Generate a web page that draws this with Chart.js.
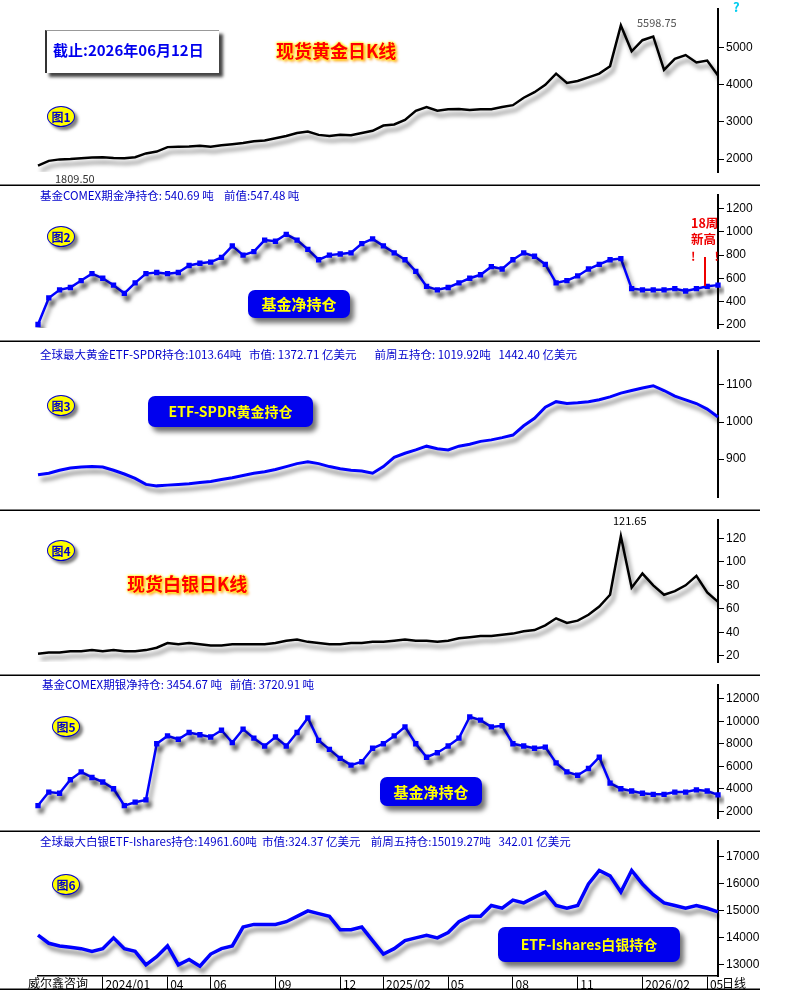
<!DOCTYPE html>
<html><head><meta charset="utf-8">
<script src="https://cdn.jsdelivr.net/npm/chart.js@4"></script>
<style>
body{margin:0;background:#fff;}
#wrap{position:relative;width:809px;height:990px;overflow:hidden;background:#fff;font-family:"Noto Sans CJK SC",sans-serif;}
canvas{position:absolute;left:0;}
.t{position:absolute;white-space:nowrap;line-height:1;}
.hdr{color:#0000cc;font-size:11.5px;}
.badge{position:absolute;width:26px;height:19px;border-radius:50%;background:#ffff00;border:1.5px solid #0000cc;color:#0000cc;font-weight:bold;font-size:12px;text-align:center;line-height:19px;box-shadow:3px 3px 3px rgba(0,0,0,.5);}
.lab{position:absolute;background:#0000ee;color:#ffff00;font-weight:bold;font-size:15px;border-radius:7px;text-align:center;box-shadow:4px 5px 5px rgba(0,0,0,.55);}
.red{color:#ff0000;font-weight:bold;font-size:18px;text-shadow:0 0 3px #ffff00,0 0 3px #ffff00,2px 2px 3px #ff8800;}
</style></head><body>
<div id="wrap">
<canvas id="c1"></canvas><canvas id="c2"></canvas><canvas id="c3"></canvas>
<canvas id="c4"></canvas><canvas id="c5"></canvas><canvas id="c6"></canvas>

<div style="position:absolute;left:45px;top:30px;width:172px;height:42px;background:#fff;border-left:2px solid #333;border-top:1px solid #999;box-shadow:4px 4px 3px #444;"></div>
<div class="t" style="left:53px;top:42px;color:#0000ee;font-weight:bold;font-size:15px;">截止:2026年06月12日</div>
<div class="t red" style="left:276px;top:41px;">现货黄金日K线</div>
<div class="t" style="left:637px;top:17px;color:#555;font-size:11px;">5598.75</div>
<div class="t" style="left:55px;top:173px;color:#333;font-size:11px;">1809.50</div>
<div class="t" style="left:733px;top:0px;color:#00ccee;font-weight:bold;font-size:13px;">?</div>
<div class="badge" style="left:47px;top:106px;">图1</div>

<div class="t hdr" style="left:40px;top:190px;">基金COMEX期金净持仓: 540.69 吨&nbsp;&nbsp;&nbsp;&nbsp;前值:547.48 吨</div>
<div class="badge" style="left:47px;top:226px;">图2</div>
<div class="t" style="left:691px;top:215px;color:#ee0000;font-weight:bold;font-size:12.5px;line-height:16px;">18周<br>新高</div>
<div class="t" style="left:691px;top:250px;color:#ee0000;font-weight:bold;font-size:12px;">!&nbsp;&nbsp;&nbsp;&nbsp;&nbsp;&nbsp;&nbsp;!</div>
<div style="position:absolute;left:704px;top:257px;width:1.5px;height:29px;background:#ee0000;"></div>
<div class="lab" style="left:248px;top:290px;width:102px;height:28px;line-height:28px;">基金净持仓</div>

<div class="t hdr" style="left:40px;top:349px;">全球最大黄金ETF-SPDR持仓:1013.64吨&nbsp;&nbsp;&nbsp;市值: 1372.71 亿美元&nbsp;&nbsp;&nbsp;&nbsp;&nbsp;&nbsp;&nbsp;前周五持仓: 1019.92吨&nbsp;&nbsp;&nbsp;1442.40 亿美元</div>
<div class="badge" style="left:47px;top:395px;">图3</div>
<div class="lab" style="left:148px;top:396px;width:165px;height:31px;line-height:31px;font-size:14px;">ETF-SPDR黄金持仓</div>

<div class="badge" style="left:47px;top:540px;">图4</div>
<div class="t" style="left:613px;top:515px;color:#000;font-size:11px;">121.65</div>
<div class="t red" style="left:127px;top:574px;">现货白银日K线</div>

<div class="t hdr" style="left:42px;top:679px;">基金COMEX期银净持仓: 3454.67 吨&nbsp;&nbsp;&nbsp;前值: 3720.91 吨</div>
<div class="badge" style="left:52px;top:716px;">图5</div>
<div class="lab" style="left:380px;top:777px;width:102px;height:29px;line-height:29px;">基金净持仓</div>

<div class="t hdr" style="left:40px;top:836px;">全球最大白银ETF-Ishares持仓:14961.60吨&nbsp;&nbsp;市值:324.37 亿美元&nbsp;&nbsp;&nbsp;&nbsp;前周五持仓:15019.27吨&nbsp;&nbsp;&nbsp;342.01 亿美元</div>
<div class="badge" style="left:52px;top:874px;">图6</div>
<div class="lab" style="left:498px;top:927px;width:182px;height:35px;line-height:35px;font-size:14px;">ETF-Ishares白银持仓</div>
<div class="t" style="left:28px;top:977px;color:#000;font-size:12px;">威尔鑫咨询</div>
<div class="t" style="left:722px;top:977px;color:#000;font-size:12px;">日线</div>
</div>
<script>
// categories: half-month periods from 2023/10 to 2026/06
const months = ['2023/10','2023/11','2023/12','2024/01','2024/02','2024/03','2024/04','2024/05','2024/06','2024/07','2024/08','2024/09','2024/10','2024/11','2024/12','2025/01','2025/02','2025/03','2025/04','2025/05','2025/06','2025/07','2025/08','2025/09','2025/10','2025/11','2025/12','2026/01','2026/02','2026/03','2026/04','2026/05'];
const periods = [];
months.forEach(m => { periods.push(m + 'a'); periods.push(m + 'b'); });
const tickMonths = {'2024/01':'2024/01','2024/04':'04','2024/06':'06','2024/09':'09','2024/12':'12','2025/02':'2025/02','2025/05':'05','2025/08':'08','2025/11':'11','2026/02':'2026/02','2026/05':'05'};

const goldPrice = [1820,1950,1990,2000,2020,2040,2050,2030,2020,2050,2150,2200,2320,2330,2340,2360,2330,2370,2400,2430,2480,2500,2560,2620,2700,2740,2650,2620,2650,2640,2700,2760,2900,2930,3050,3300,3400,3300,3340,3350,3320,3340,3340,3400,3450,3650,3800,4000,4300,4050,4100,4200,4300,4500,5598.75,4900,5200,5300,4400,4700,4800,4600,4650,4250];
const goldComexNet = [200,430,500,520,580,640,600,540,470,560,640,650,640,650,710,730,740,780,880,800,830,930,920,980,930,850,760,800,810,820,900,940,880,820,760,660,530,500,520,560,600,630,700,680,760,820,790,720,560,580,620,680,720,760,770,510,500,500,500,510,490,510,530,540.69];
const goldSpdr = [858,862,870,876,879,880,879,870,860,848,832,828,830,832,834,837,840,845,850,856,862,866,872,880,888,893,888,880,874,870,868,862,880,905,916,925,935,928,925,935,940,948,952,958,965,990,1010,1040,1055,1050,1052,1055,1060,1068,1078,1085,1092,1098,1085,1070,1060,1050,1035,1013.64];
const silverPrice = [22,23,23,24,24,25,24,25,24,24,25,27,31,30,31,30,29,29,30,30,30,30,31,33,34,32,31,30,30,31,31,32,32,33,34,33,33,32,33,35,36,37,37,38,39,41,42,46,52,48,50,55,62,72,121.65,78,90,80,72,75,80,88,74,66];
const silverComexNet = [2500,3700,3600,4800,5500,5000,4600,4000,2500,2800,3000,8000,8700,8400,9000,8800,8600,9200,8100,9300,8500,7800,8600,7800,9000,10300,8300,7500,6700,6100,6400,7600,8000,8700,9500,8000,6800,7200,7800,8500,10400,10100,9500,9600,8000,7800,7600,7700,6300,5500,5200,5800,6800,4500,4000,3800,3600,3500,3500,3700,3700,3900,3800,3454.67];
const silverIshares = [14100,13800,13700,13650,13600,13500,13600,14000,13600,13500,13000,13300,13700,13000,13200,12950,13400,13600,13700,14400,14500,14500,14500,14600,14800,15000,14900,14800,14300,14300,14400,13900,13400,13600,13900,14000,14100,14000,14200,14600,14800,14800,15200,15100,15400,15300,15500,15700,15200,15100,15200,16000,16500,16300,15700,16500,16000,15600,15300,15200,15100,15200,15100,14961.6];

const shadow = {id:'shadow',
  beforeDatasetsDraw(c){const x=c.ctx;x.save();x.shadowColor='rgba(0,0,0,0.5)';x.shadowBlur=4;x.shadowOffsetX=3;x.shadowOffsetY=5;},
  afterDatasetsDraw(c){c.ctx.restore();}};
const sep = {id:'sep', afterDraw(c){const x=c.ctx;x.save();x.strokeStyle='#000';x.lineWidth=1.5;x.beginPath();x.moveTo(0,c.height-0.75);x.lineTo(760,c.height-0.75);x.stroke();x.restore();}};

function make(id, top, h, data, min, max, step, color, bw, withX, pts){
  const cv = document.getElementById(id);
  cv.style.top = top + 'px'; cv.width = 809; cv.height = h;
  cv.style.width='809px'; cv.style.height=h+'px';
  const plotH = withX ? h - 14 : h;
  new Chart(cv, {
    type:'line',
    data:{labels:periods, datasets:[{data, borderColor:color, borderWidth:bw, pointRadius:pts?2:0, pointStyle:'rect', pointBackgroundColor:color, pointBorderColor:color, tension:0}]},
    options:{responsive:false, animation:false, devicePixelRatio:1,
      layout:{padding:{left:38,right:0,top:0,bottom:0}},
      plugins:{legend:{display:false},tooltip:{enabled:false}},
      scales:{
        x:{display:withX, offset:false,
          grid:{drawOnChartArea:false, drawTicks:true, tickLength:14, color:(ctx)=>ctx.tick && ctx.tick.label ? '#000':'rgba(0,0,0,0)', lineWidth:1},
          border:{color:'#000', width:1.5},
          ticks:{autoSkip:false, maxRotation:0, align:'start', padding:-13,
            font:{size:12, family:'"Noto Sans CJK SC"'}, color:'#000',
            callback:(v,i)=>{const p=periods[i]; return p.endsWith('a') && tickMonths[p.slice(0,7)] ? ' '+tickMonths[p.slice(0,7)] : '';}},
          afterFit:s=>{s.height=14;}},
        y:{position:'right', min, max,
          grid:{drawOnChartArea:false, tickLength:6, color:'#000'},
          border:{color:'#000', width:2},
          ticks:{color:'#000', font:{size:12, family:'"Liberation Sans"'}, padding:2, callback:v=>String(v)},
          afterBuildTicks:s=>{const t=[];for(let v=Math.ceil(min/step)*step; v<=max; v+=step){const top=(max-v)/(max-min)*plotH, bot=(v-min)/(max-min)*plotH; if(top>3&&bot>3) t.push({value:v});} s.ticks=t;},
          afterFit:s=>{s.width=91;}}
      }},
    plugins:[shadow, sep]
  });
}
make('c1',0,186,goldPrice,1650,6035,1000,'#000',2.5,false,false);
make('c2',186,156,goldComexNet,170,1318,200,'#0000ff',2.5,false,true);
make('c3',342,169,goldSpdr,798,1191,100,'#0000ff',3,false,false);
make('c4',511,165,silverPrice,14.9,135.3,20,'#000',2.5,false,false);
make('c5',676,156,silverComexNet,1394,13212,2000,'#0000ff',2.5,false,true);
make('c6',832,158,silverIshares,12586,17586,1000,'#0000ff',3.5,true,false);
</script>
</body></html>
